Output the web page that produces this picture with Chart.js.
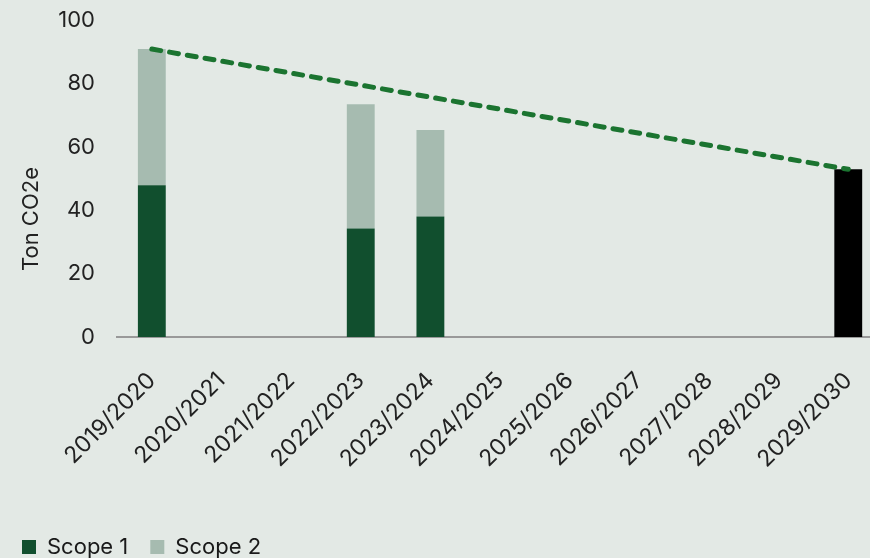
<!DOCTYPE html>
<html lang="en">
<head>
    <meta charset="UTF-8">
    <title>Ton CO2e</title>
    <script src="https://cdn.jsdelivr.net/npm/chart.js"></script>
    <style>
        html, body {
            margin: 0;
            padding: 0;
            background-color: #e3e9e5;
            overflow: hidden;
        }
        .chart-container {
            position: relative;
            width: 890px;
            height: 568px;
        }
    </style>
</head>
<body>
    <div class="chart-container">
        <canvas id="co2Chart"></canvas>
    </div>

    <script>
        const years = ['2019/2020', '2020/2021', '2021/2022', '2022/2023', '2023/2024', '2024/2025',
                       '2025/2026', '2026/2027', '2027/2028', '2028/2029', '2029/2030'];
        const scope1 = [48, null, null, 34.3, 38.1, null, null, null, null, null, null];
        const scope2 = [43, null, null, 39.3, 27.3, null, null, null, null, null, null];
        const target = [null, null, null, null, null, null, null, null, null, null, 53];
        const trend = [91, null, null, null, null, null, null, null, null, null, 53];
        const yTicks = [0, 20, 40, 60, 80, 100];

        const fontFamily = 'Inter, "Noto Sans", sans-serif';

        // y axis title sits lower than the middle of the plot, so draw it by hand
        const axisTitle = {
            id: 'axisTitle',
            afterDraw(chart) {
                const ctx = chart.ctx;
                ctx.save();
                ctx.translate(31, 219);
                ctx.rotate(-Math.PI / 2);
                ctx.font = '22px ' + fontFamily;
                ctx.fillStyle = '#222222';
                ctx.textAlign = 'center';
                ctx.textBaseline = 'middle';
                ctx.fillText('Ton CO2e', 0, 0);
                ctx.restore();
            }
        };

        const ctx = document.getElementById('co2Chart').getContext('2d');
        new Chart(ctx, {
            data: {
                labels: years,
                datasets: [
                    {
                        type: 'line',
                        label: 'Trend',
                        data: trend,
                        borderColor: '#1b7430',
                        borderWidth: 5,
                        borderDash: [9, 9],
                        borderCapStyle: 'round',
                        pointRadius: 0,
                        spanGaps: true,
                        fill: false,
                        order: 0
                    },
                    {
                        type: 'bar',
                        label: 'Scope 1',
                        data: scope1,
                        backgroundColor: '#114f2e',
                        stack: 's',
                        barPercentage: 0.4,
                        categoryPercentage: 1,
                        order: 1
                    },
                    {
                        type: 'bar',
                        label: 'Scope 2',
                        data: scope2,
                        backgroundColor: '#a6bbb0',
                        stack: 's',
                        barPercentage: 0.4,
                        categoryPercentage: 1,
                        order: 1
                    },
                    {
                        type: 'bar',
                        label: 'Target',
                        data: target,
                        backgroundColor: '#000000',
                        stack: 's',
                        barPercentage: 0.4,
                        categoryPercentage: 1,
                        order: 1
                    }
                ]
            },
            options: {
                responsive: true,
                maintainAspectRatio: false,
                animation: false,
                layout: {
                    padding: { top: 16, right: 5, left: 0, bottom: 0 }
                },
                plugins: {
                    legend: {
                        position: 'bottom',
                        align: 'start',
                        labels: {
                            filter: item => item.text === 'Scope 1' || item.text === 'Scope 2',
                            boxWidth: 14,
                            boxHeight: 14,
                            color: '#1a1a1a',
                            font: { family: fontFamily, size: 22 },
                            padding: 22
                        }
                    },
                    tooltip: { enabled: false }
                },
                scales: {
                    x: {
                        stacked: true,
                        grid: { display: false },
                        border: { display: true, color: '#999999', width: 2 },
                        ticks: {
                            color: '#222222',
                            font: { family: fontFamily, size: 23 },
                            maxRotation: 45,
                            minRotation: 45,
                            padding: 22
                        },
                        afterFit(scale) { scale.height = 177; }
                    },
                    y: {
                        stacked: true,
                        min: 0,
                        max: 100,
                        afterBuildTicks(scale) {
                            scale.ticks = yTicks.map(v => ({ value: v }));
                        },
                        grid: { display: false },
                        border: { display: false },
                        ticks: {
                            color: '#222222',
                            font: { family: fontFamily, size: 22, lineHeight: 0.6 },
                            padding: 14
                        },
                        afterFit(scale) { scale.width = 117; }
                    }
                }
            },
            plugins: [axisTitle]
        });
    </script>
</body>
</html>
